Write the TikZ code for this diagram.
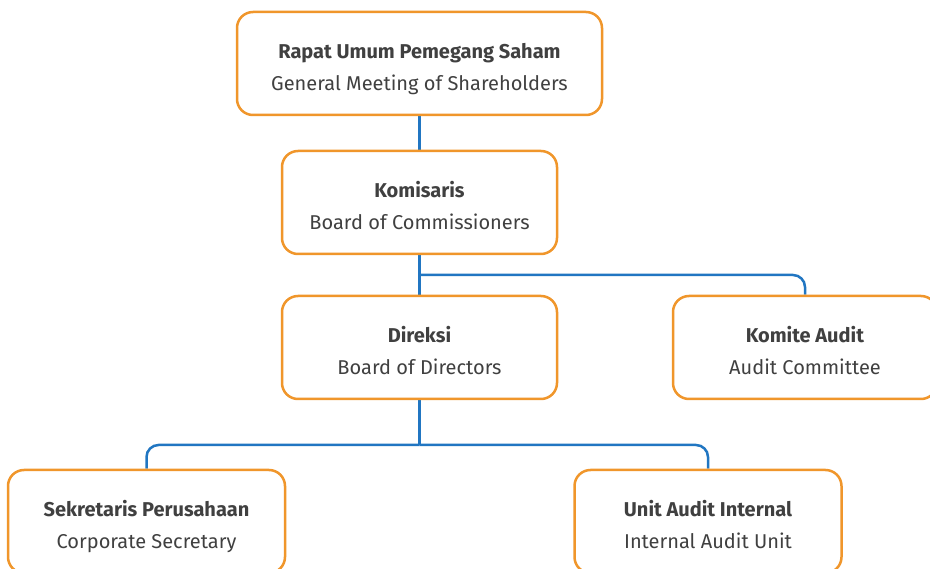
\documentclass[tikz,border=0pt]{standalone}
\usepackage{fontspec}
\setmainfont{Fira Sans}
\usepackage{tikz}
\definecolor{Jingga}{HTML}{F0962B}
\definecolor{Biru}{HTML}{2176C2}
\definecolor{Teks}{HTML}{404040}
\pgfdeclarelayer{garis_layer}
\pgfdeclarelayer{bagan}
\pgfsetlayers{garis_layer,bagan,main}
\tikzstyle{none}=[inner sep=0pt]
\tikzstyle{jabatan}=[draw=Jingga,fill=white,line width=2.5pt,rounded corners=16pt,minimum height=103pt,inner sep=0pt,align=center,text=Teks,font=\fontsize{20}{32.5}\selectfont,text height=61.5pt,text depth=7pt]
\tikzstyle{line}=[draw=Biru,line width=2.5pt,rounded corners=12pt]

\begin{document}
\begin{tikzpicture}[x=1pt,y=-1pt]
		\useasboundingbox (0,0) rectangle (930,569);
		\begin{pgfonlayer}{bagan}
			\node [style=jabatan,minimum width=365pt] (rups) at (419.5,63.5) {\textbf{Rapat Umum Pemegang Saham}\\General Meeting of Shareholders};
			\node [style=jabatan,minimum width=275pt] (komisaris) at (419.5,202.5) {\textbf{Komisaris}\\Board of Commissioners};
			\node [style=jabatan,minimum width=275pt] (direksi) at (419.5,347.5) {\textbf{Direksi}\\Board of Directors};
			\node [style=jabatan,minimum width=264pt] (komite) at (805,347.5) {\textbf{Komite Audit}\\Audit Committee};
			\node [style=jabatan,minimum width=277pt] (sekretaris) at (146.5,521.5) {\textbf{Sekretaris Perusahaan}\\Corporate Secretary};
			\node [style=jabatan,minimum width=267pt] (spi) at (708,521.5) {\textbf{Unit Audit Internal}\\Internal Audit Unit};
		\end{pgfonlayer}
		\begin{pgfonlayer}{garis_layer}
			\coordinate (cabang_komisaris) at (419.5,275);
			\coordinate (cabang_direksi) at (419.5,445);
			\path [style=line] (rups) -- (komisaris);
			\path [style=line] (komisaris) -- (direksi);
			\path [style=line] (cabang_komisaris) -| (komite.north);
			\path [style=line] (direksi) -- (cabang_direksi);
			\path [style=line] (cabang_direksi) -| (sekretaris.north);
			\path [style=line] (cabang_direksi) -| (spi.north);
		\end{pgfonlayer}
\end{tikzpicture}
\end{document}
